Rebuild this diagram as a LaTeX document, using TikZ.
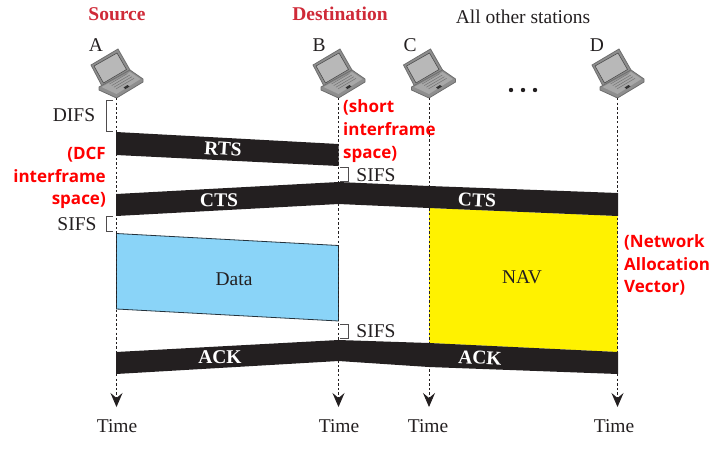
\documentclass[tikz,border=0pt]{standalone}
\usepackage{fontspec}
\setmainfont{Liberation Serif}
\newfontfamily\notefont{Open Sans}[BoldFont={Open Sans Bold}]
\usetikzlibrary{arrows.meta,calc}
\definecolor{headred}{HTML}{CF2A38}
\definecolor{notered}{HTML}{FF0000}
\definecolor{barblack}{HTML}{231F20}
\definecolor{datafill}{HTML}{8AD4F8}
\definecolor{datastroke}{HTML}{24323C}
\definecolor{navfill}{HTML}{FFF200}
\definecolor{lapedge}{HTML}{6E6E6E}
\definecolor{lapframe}{HTML}{8E8E8E}
\definecolor{lapbody}{HTML}{A8A8A8}
\definecolor{lapscreen}{HTML}{B8B8B8}
\tikzset{
  txt/.style={font=\fontsize{19.5}{22}\selectfont, text=barblack, inner sep=0pt},
  headtxt/.style={font=\fontsize{19.5}{22}\selectfont\bfseries, text=headred, inner sep=0pt},
  bartxt/.style={font=\fontsize{19.5}{22}\selectfont\bfseries, text=white, inner sep=0pt},
  note/.style={font=\fontsize{17}{22.7}\selectfont\notefont\bfseries, text=notered, inner sep=0pt},
  lifeline/.style={barblack, line width=0.9pt, dash pattern=on 2.4pt off 2.2pt},
  timearrow/.style={-{Stealth[length=14pt,width=12pt,inset=5pt]}},
  bar/.style={fill=barblack},
  bracket/.style={draw=barblack!80, line width=0.9pt},
  laptop/.pic={
    % lid
    \fill[lapframe, draw=lapedge, line width=0.8pt] (-25.5,-33) -- (1.5,-49) -- (13.5,-28) -- (-13.5,-10) -- cycle;
    \fill[lapscreen, draw=black!70, line width=0.6pt] (-22.5,-32) -- (0.5,-45) -- (10,-28.5) -- (-13,-15) -- cycle;
    % base
    \fill[lapframe, draw=lapedge, line width=0.8pt] (-17.5,-11) -- (13.5,-28) -- (26.5,-19) -- (26.5,-16) -- (0,0) -- (-17.5,-8) -- cycle;
    \fill[lapbody] (-15,-11) -- (13.5,-26) -- (24,-19) -- (0,-4) -- cycle;
    \foreach \k in {0,1,2,3}
      \draw[black!55, line width=0.5pt] ($(-7,-14)+(\k*2.2,\k*1.6)$) -- ($(11,-24.5)+(\k*2.2,\k*1.6)$);
    \fill[black!80] (7,-10.5) -- (11,-13) -- (13,-11.5) -- (9,-9) -- cycle;
  }
}
\begin{document}
\begin{tikzpicture}[x=1pt,y=-1pt]
  \useasboundingbox (0,0) rectangle (719,448);

  % ===== Filled frames under the time lines =====
  \fill[navfill] (429,208) -- (617.5,216) -- (617.5,352) -- (429,343) -- cycle;
  \draw[fill=datafill, draw=datastroke, line width=0.8pt]
    (116.5,233.5) -- (338.5,245.5) -- (338.5,321) -- (116.5,309) -- cycle;

  % ===== Stations and time lines =====
  \foreach \name/\x/\lx/\tx in {A/116.5/96/117, B/338.5/319/339, C/429/410/428, D/617.5/597/614} {
    \pic at (\x,98) {laptop};
    \coordinate (\name-top) at (\x,98);
    \coordinate (\name-end) at (\x,407);
    \node[txt] (\name-lab) at (\lx,45) {\name};
    \node[txt] (\name-time) at (\tx,426) {Time};
    \draw[lifeline, timearrow] (\name-top) -- (\name-end);
  }

  % ===== Black frames =====
  \fill[bar] (116,132) -- (338.5,144) -- (338.5,166) -- (116,155) -- cycle;
  \fill[bar] (116,194) -- (338.5,182) -- (429,186) -- (618,193) -- (618,216)
    -- (429,208) -- (338.5,204) -- (116,216) -- cycle;
  \fill[bar] (116,352) -- (338.5,340) -- (429,343) -- (618,352) -- (618,374)
    -- (429,367) -- (338.5,361) -- (116,374) -- cycle;

  % ===== Frame labels =====
  \node[bartxt, rotate=-4] (rts) at (223,149) {RTS};
  \node[bartxt, rotate=-1] (cts-a) at (219,200) {CTS};
  \node[bartxt, rotate=-3] (cts-b) at (477,200) {CTS};
  \node[bartxt] (ack-a) at (220,357) {ACK};
  \node[bartxt, rotate=-3] (ack-b) at (480,358) {ACK};
  \node[txt] (data) at (234,279) {Data};
  \node[txt] (nav) at (522,277) {NAV};

  % ===== Headings =====
  \node[headtxt] (source) at (117,14) {Source};
  \node[headtxt] (dest) at (340,14) {Destination};
  \node[txt] (others) at (523,17) {All other stations};
  \foreach \x in {511,523,535}
    \fill[barblack] (\x,90) circle (2.2);

  % ===== Interframe brackets =====
  \draw[bracket] (113,100.5) -- (106,100.5) -- (106,131) -- (113,131);
  \draw[bracket] (113,216.5) -- (106,216.5) -- (106,231) -- (113,231);
  \draw[bracket] (340,167) -- (348,167) -- (348,181) -- (340,181);
  \draw[bracket] (340,324) -- (348,324) -- (348,338) -- (340,338);
  \node[txt] (difs) at (74,115) {DIFS};
  \node[txt] (sifs-a) at (77,224) {SIFS};
  \node[txt] (sifs-b) at (376,175) {SIFS};
  \node[txt] (sifs-c) at (376,331) {SIFS};

  % ===== Red notes =====
  \node[note, align=right, anchor=east] (dcf) at (106,178) {(DCF\\interframe\\space)};
  \node[note, align=left, anchor=west] (short) at (343,131) {(short\\interframe\\space)};
  \node[note, align=left, anchor=west] (nvec) at (624,265) {(Network\\Allocation\\Vector)};

\end{tikzpicture}
\end{document}
